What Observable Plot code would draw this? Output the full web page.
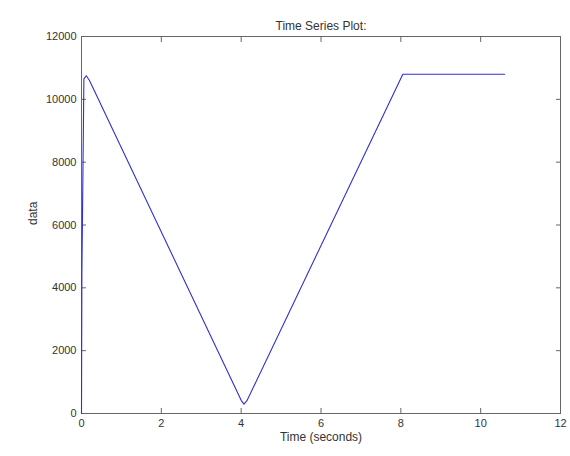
<!DOCTYPE html>
<html>
<head>
<meta charset="utf-8">
<script src="https://cdn.jsdelivr.net/npm/d3@7"></script>
<script src="https://cdn.jsdelivr.net/npm/@observablehq/plot@0.6"></script>
<style>
  html, body { margin: 0; padding: 0; background: #fff; }
</style>
</head>
<body>
<div id="chart"></div>
<script>
const times  = [0, 0.01, 0.06, 0.12, 0.2, 4.0, 4.07, 4.15, 8.05, 10.6];
const values = [0, 4500, 10650, 10750, 10600, 420, 300, 420, 10800, 10800];
const xTicks = [0, 2, 4, 6, 8, 10, 12];
const yTicks = [0, 2000, 4000, 6000, 8000, 10000, 12000];
const title = "Time Series Plot:";
const xLabel = "Time (seconds)";
const yLabel = "data";

const data = times.map((t, i) => ({t, v: values[i]}));
const font = "Liberation Sans, Arial, sans-serif";

const chart = Plot.plot({
  width: 570,
  height: 456,
  marginLeft: 81,
  marginRight: 10,
  marginTop: 36,
  marginBottom: 43,
  style: {fontFamily: font, fontSize: "11px", color: "#333", background: "#fff"},
  x: {domain: [0, 12]},
  y: {domain: [0, 12000]},
  marks: [
    Plot.frame({stroke: "#666"}),
    Plot.axisX({anchor: "bottom", ticks: xTicks, tickSize: 0, tickPadding: 6, label: null, tickFormat: d => String(d), fill: "#333"}),
    Plot.axisX({anchor: "bottom", ticks: xTicks, tickSize: -5, tickFormat: () => "", label: null, stroke: "#666"}),
    Plot.axisX({anchor: "top", ticks: xTicks, tickSize: -5, tickFormat: () => "", label: null, stroke: "#666"}),
    Plot.axisY({anchor: "left", ticks: yTicks, tickSize: 0, tickPadding: 5, label: null, tickFormat: d => String(d), fill: "#333"}),
    Plot.axisY({anchor: "left", ticks: yTicks, tickSize: -5, tickFormat: () => "", label: null, stroke: "#666"}),
    Plot.axisY({anchor: "right", ticks: yTicks, tickSize: -5, tickFormat: () => "", label: null, stroke: "#666"}),
    Plot.line(data, {x: "t", y: "v", stroke: "#2f2fd0", strokeWidth: 1.1}),
    Plot.text([title], {frameAnchor: "top", dy: -15, fontSize: 12, fill: "#333"}),
    Plot.text([xLabel], {frameAnchor: "bottom", dy: 27, fontSize: 12, fill: "#333"}),
    Plot.text([yLabel], {frameAnchor: "left", dx: -48, rotate: -90, fontSize: 12, fill: "#333"})
  ]
});
document.getElementById("chart").appendChild(chart);
</script>
</body>
</html>
